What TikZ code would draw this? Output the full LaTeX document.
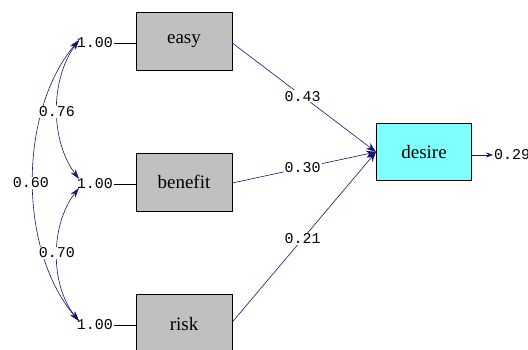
\documentclass[tikz,border=0pt]{standalone}
\usepackage{fontspec}
\setmainfont{Liberation Serif}
\newfontfamily\monofam{Liberation Mono}
\usetikzlibrary{arrows.meta}
\definecolor{boxgray}{RGB}{192,192,192}
\definecolor{lcyan}{RGB}{128,255,255}
\definecolor{arrnavy}{RGB}{20,20,110}
\begin{document}
\begin{tikzpicture}[x=1pt,y=-1pt,
  var/.style={draw=black, line width=0.7pt, fill=boxgray, minimum width=96pt, minimum height=58pt, inner sep=0pt, font=\fontsize{19}{21}\selectfont},
  dep/.style={var, fill=lcyan},
  num/.style={font=\monofam\fontsize{15}{17}\selectfont, inner sep=1pt},
  numf/.style={num, fill=white},
  path/.style={draw=arrnavy, line width=0.6pt, -{Stealth[length=10pt,width=7pt]}},
  cov/.style={draw=arrnavy, line width=0.6pt, {Stealth[length=10pt,width=6pt]}-{Stealth[length=10pt,width=6pt]}}
]
\useasboundingbox (0,0) rectangle (528,350);
\clip (0,0) rectangle (528,350);
% boxes
\node[var] (easy) at (184,41) {easy};
\node[var] (benefit) at (184,182) {benefit};
\node[var, minimum height=60pt] (risk) at (184,324) {risk};
\node[dep, minimum width=95pt, minimum height=57pt] (desire) at (424,152) {desire};
% variance labels
\node[num, anchor=east] (ve) at (114,43) {1.00};
\node[num, anchor=east] (vb) at (114,184) {1.00};
\node[num, anchor=east] (vr) at (114,325) {1.00};
\draw[line width=0.6pt] (ve.east) -- (easy.west |- ve.east);
\draw[line width=0.6pt] (vb.east) -- (benefit.west |- vb.east);
\draw[line width=0.6pt] (vr.east) -- (risk.west |- vr.east);
\coordinate (ce) at (79,40);
\coordinate (cb1) at (79,179);
\coordinate (cb2) at (79,188);
\coordinate (cr) at (79,321);
% covariances
\draw[cov] (ce) .. controls (18,112) and (18,250) .. (cr);
\draw[cov] (ce) .. controls (50,80) and (50,140) .. (cb1);
\draw[cov] (cb2) .. controls (50,225) and (50,285) .. (cr);
\node[numf] (l76) at (57,112) {0.76};
\node[numf] (l60) at (31,183) {0.60};
\node[numf] (l70) at (57,253) {0.70};
% paths
\coordinate (din) at (376,152);
\draw[path] (easy.east |- 0,43) -- node[numf, pos=0.49] (l43) {0.43} (din);
\draw[path] (benefit.east |- 0,183) -- node[numf, pos=0.49] (l30) {0.30} (din);
\draw[path] (risk.east |- 0,322) -- node[numf, pos=0.49] (l21) {0.21} (din);
% error
\node[num, anchor=west] (err) at (493,155) {0.29};
\draw[draw=arrnavy, line width=0.8pt, -{Stealth[length=7pt,width=5pt]}] (desire.east |- err.west) -- (err.west);
\end{tikzpicture}
\end{document}
